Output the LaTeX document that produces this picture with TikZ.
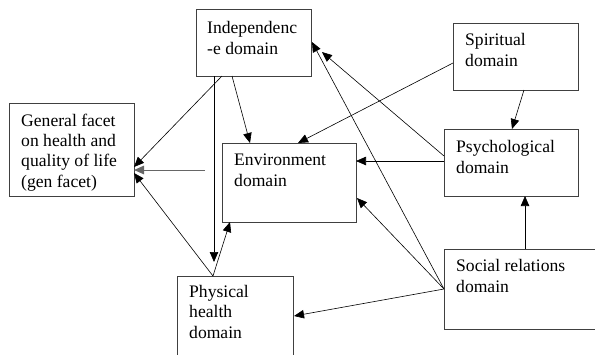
\documentclass[tikz,border=0pt]{standalone}
\usepackage{fontspec}
\setmainfont{Liberation Serif}
\usetikzlibrary{arrows.meta,calc}
\begin{document}
\begin{tikzpicture}[x=1pt,y=-1pt,
  box/.style={draw=black!75,line width=1pt,inner sep=0pt,outer sep=0pt,anchor=north west},
  txt/.style={anchor=base west,inner sep=0pt,align=left,font=\fontsize{17.6}{20.3}\selectfont},
  conn/.style={line width=0.6pt,-{Triangle[length=10pt,width=8.5pt]}}]
\useasboundingbox (0,0) rectangle (595,354);
\clip (0,0) rectangle (595,354);
% boxes
\node[box,minimum width=125pt,minimum height=93pt] (gen) at (9,103) {};
\node[box,minimum width=115pt,minimum height=67pt] (ind) at (196,9) {};
\node[box,minimum width=134pt,minimum height=79pt] (env) at (222,143) {};
\node[box,minimum width=125pt,minimum height=67pt] (spi) at (453,23) {};
\node[box,minimum width=134pt,minimum height=67pt] (psy) at (444,129) {};
\node[box,minimum width=170pt,minimum height=80pt] (soc) at (444,249) {};
\node[box,minimum width=116pt,minimum height=110pt] (phy) at (177,276) {};
% texts (anchored at the baseline of their last line)
\node[txt] (genT) at (21,187) {General facet\\on health and\\quality of life\\(gen facet)};
\node[txt] (indT) at (207,54) {Independenc\\-e domain};
\node[txt] (envT) at (234,186) {Environment\\domain};
\node[txt] (spiT) at (465,66) {Spiritual\\domain};
\node[txt] (psyT) at (456,173) {Psychological\\domain};
\node[txt] (socT) at (456,292) {Social relations\\domain};
\node[txt] (phyT) at (189,338) {Physical\\health\\domain};
% connectors
\coordinate (envL) at ($(env.north west)+(-17,27)$);
\coordinate (indDown) at ($(phy.north west)+(37,-14)$);
\coordinate (psyInd) at ($(ind.north east)+(11,43)$);
\draw[conn] ($(ind.south west)+(26,0)$) -- ($(gen.north east)+(0,64)$);
\draw[conn] ($(ind.south west)+(36,0)$) -- ($(env.north west)+(28,0)$);
\draw[conn] ($(ind.south west)+(18,0)$) -- (indDown);
\draw[conn] ($(phy.north west)+(36,0)$) -- ($(env.south west)+(8,0)$);
\draw[conn] ($(phy.north west)+(36,0)$) -- ($(gen.north east)+(0,70)$);
\draw[conn,draw=black!60,line width=1pt] (envL) -- ($(gen.north east)+(0,67)$);
\draw[conn] ($(spi.north west)+(0,40)$) -- ($(env.north west)+(76,0)$);
\draw[conn] ($(spi.south west)+(71,0)$) -- ($(psy.north west)+(68,0)$);
\draw[conn] ($(psy.north west)+(0,27)$) -- (psyInd);
\draw[conn] ($(psy.north west)+(0,32)$) -- ($(env.north east)+(0,18)$);
\draw[conn] ($(soc.north west)+(81,0)$) -- ($(psy.south west)+(81,0)$);
\draw[conn] ($(soc.north west)+(0,40)$) -- ($(env.north east)+(1,55)$);
\draw[conn] ($(soc.north west)+(0,40)$) -- ($(ind.north east)+(1,33)$);
\draw[conn] ($(soc.north west)+(0,40)$) -- ($(phy.north west)+(117,40)$);
\end{tikzpicture}
\end{document}
